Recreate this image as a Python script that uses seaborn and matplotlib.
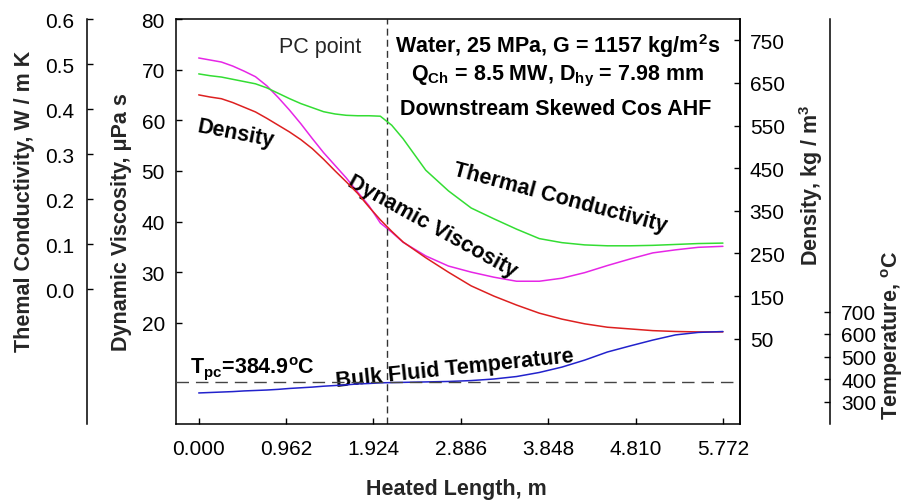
import matplotlib

matplotlib.use("Agg")

import matplotlib.pyplot as plt
import seaborn as sns
from matplotlib.ticker import FormatStrFormatter

# Values
HEATED_LENGTH = [0.0, 0.125, 0.25, 0.375, 0.5, 0.625, 0.75, 0.875, 1.0, 1.125,
                 1.25, 1.375, 1.5, 1.625, 1.75, 1.875, 2.0, 2.125, 2.25, 2.5,
                 2.75, 3.0, 3.25, 3.5, 3.75, 4.0, 4.25, 4.5, 4.75, 5.0,
                 5.25, 5.5, 5.772]
VISCOSITY = [72.3, 71.9, 71.5, 70.7, 69.7, 68.6, 66.8, 64.5, 62.0, 59.3,
             56.4, 53.6, 51.1, 48.6, 45.8, 43.1, 39.7, 37.9, 35.9, 33.2,
             31.2, 30.0, 29.0, 28.2, 28.2, 28.8, 29.9, 31.3, 32.6, 33.8,
             34.4, 34.9, 35.1]
CONDUCTIVITY = [0.478, 0.474, 0.471, 0.466, 0.461, 0.456, 0.447, 0.435, 0.423, 0.412,
                0.403, 0.394, 0.389, 0.386, 0.385, 0.385, 0.384, 0.364, 0.334, 0.264,
                0.218, 0.180, 0.156, 0.133, 0.112, 0.103, 0.098, 0.096, 0.096, 0.097,
                0.099, 0.101, 0.102]
DENSITY = [622, 617, 613, 604, 593, 582, 567, 551, 535, 517,
           496, 471, 444, 418, 391, 359, 329, 302, 277, 240,
           206, 174, 150, 129, 110, 96, 85, 77, 73, 69,
           67, 66, 66]
TEMPERATURE = [338, 340, 342, 344, 347, 349, 351, 354, 358, 361,
               364, 368, 371, 374, 378, 380, 383, 384, 385, 387,
               389, 393, 400, 411, 429, 453, 484, 520, 547, 573,
               596, 607, 611]

X_TICKS = [0.000, 0.962, 1.924, 2.886, 3.848, 4.810, 5.772]
VISC_TICKS = [20, 30, 40, 50, 60, 70, 80]
COND_TICKS = [0.0, 0.1, 0.2, 0.3, 0.4, 0.5, 0.6]
DENS_TICKS = [50, 150, 250, 350, 450, 550, 650, 750]
TEMP_TICKS = [300, 400, 500, 600, 700]
PC_POINT = 2.07
T_PC = 384.9

sns.set_theme(style="ticks")
plt.rcParams["font.family"] = ["Liberation Sans", "DejaVu Sans"]
plt.rcParams.update({
    "mathtext.fontset": "custom",
    "mathtext.rm": "Liberation Sans",
    "mathtext.it": "Liberation Sans:italic",
    "mathtext.bf": "Liberation Sans:bold",
    "axes.linewidth": 1.1,
    "xtick.direction": "in",
    "ytick.direction": "in",
    "xtick.major.size": 4,
    "ytick.major.size": 4,
    "xtick.major.width": 1.0,
    "ytick.major.width": 1.0,
    "xtick.color": "black",
    "ytick.color": "black",
    "axes.edgecolor": "black",
})

TICK_FS = 15
LABEL_FS = 15.5
LW = 1.1

fig = plt.figure(figsize=(9.14, 5.02), dpi=100)
ax = fig.add_axes([176 / 914, 1 - 425 / 502, 564 / 914, 405 / 502])

# viscosity on the main axes
sns.lineplot(x=HEATED_LENGTH, y=VISCOSITY, ax=ax, color="#e626e6", lw=LW)
ax.set_xlim(-0.25, 5.96)
ax.set_ylim(0, 80)
ax.set_xticks(X_TICKS)
ax.xaxis.set_major_formatter(FormatStrFormatter("%.3f"))
ax.set_yticks(VISC_TICKS)
ax.tick_params(axis="x", labelsize=TICK_FS, pad=11)
ax.tick_params(axis="y", labelsize=TICK_FS, pad=8)
ax.set_xlabel("Heated Length, m", fontsize=LABEL_FS, fontweight="bold")
ax.xaxis.set_label_coords(0.498, -0.16)
ax.xaxis.label.set_va("center")
ax.set_ylabel("Dynamic Viscosity, μPa s", fontsize=LABEL_FS, fontweight="bold")
ax.yaxis.set_label_coords(-0.097, 0.5)
ax.yaxis.label.set_va("center")
ax.axvline(PC_POINT, color="#333333", lw=1.0, ls=(0, (5, 3)))


def only_spine(axis, side, position):
    for name, spine in axis.spines.items():
        spine.set_visible(name == side)
    axis.spines[side].set_position(("axes", position))
    axis.spines[side].set_linewidth(1.1)


# thermal conductivity, outer left axis
ax_k = ax.twinx()
sns.lineplot(x=HEATED_LENGTH, y=CONDUCTIVITY, ax=ax_k, color="#33dd33", lw=LW)
only_spine(ax_k, "left", -0.158)
ax_k.yaxis.tick_left()
ax_k.yaxis.set_label_position("left")
ax_k.set_ylim(-0.3, 0.6)
ax_k.set_yticks(COND_TICKS)
ax_k.yaxis.set_major_formatter(FormatStrFormatter("%.1f"))
ax_k.tick_params(axis="y", labelsize=TICK_FS, pad=9)
ax_k.set_ylabel("Themal Conductivity, W / m K", fontsize=LABEL_FS, fontweight="bold")
ax_k.yaxis.set_label_coords(-0.268, 0.553)
ax_k.yaxis.label.set_va("center")

# density, right axis of the box
ax_d = ax.twinx()
sns.lineplot(x=HEATED_LENGTH, y=DENSITY, ax=ax_d, color="#dd2020", lw=LW)
only_spine(ax_d, "right", 1.0)
ax_d.set_ylim(-150, 800)
ax_d.set_yticks(DENS_TICKS)
ax_d.tick_params(axis="y", labelsize=TICK_FS, pad=7)
ax_d.set_ylabel("Density, kg / m$^\\mathbf{3}$", fontsize=LABEL_FS, fontweight="bold")
ax_d.yaxis.set_label_coords(1.126, 0.593)
ax_d.yaxis.label.set_va("center")

# bulk fluid temperature, outer right axis
ax_t = ax.twinx()
sns.lineplot(x=HEATED_LENGTH, y=TEMPERATURE, ax=ax_t, color="#2222cc", lw=LW)
only_spine(ax_t, "right", 1.160)
ax_t.set_ylim(200, 2000)
ax_t.set_yticks(TEMP_TICKS)
ax_t.tick_params(axis="y", labelsize=TICK_FS, pad=8)
ax_t.set_ylabel("Temperature, $^\\mathbf{o}$C", fontsize=LABEL_FS, fontweight="bold")
ax_t.yaxis.set_label_coords(1.270, 0.222)
ax_t.yaxis.label.set_va("center")
ax_t.axhline(T_PC, color="#444444", lw=1.0, ls=(0, (9, 5)))

# annotations
bold = dict(fontsize=LABEL_FS, fontweight="bold", color="black")
ax.text(1.34, 74.5, "PC point", fontsize=LABEL_FS, ha="center", va="center")
ax.text(3.95, 73.5, "Water, 25 MPa, G = 1157 kg/m$^\\mathbf{2}$s", ha="center", va="baseline", **bold)
ax.text(3.95, 68.1, "Q$_\\mathbf{Ch}$ = 8.5 MW, D$_\\mathbf{hy}$ = 7.98 mm", ha="center", va="baseline", **bold)
ax.text(3.93, 61.2, "Downstream Skewed Cos AHF", ha="center", va="baseline", **bold)
ax.text(0.41, 57.5, "Density", rotation=-11, ha="center", va="center", rotation_mode="anchor", **bold)
ax.text(2.57, 39.1, "Dynamic Viscosity", rotation=-29, ha="center", va="center", rotation_mode="anchor", **bold)
ax.text(3.98, 44.8, "Thermal Conductivity", rotation=-15, ha="center", va="center", rotation_mode="anchor", **bold)
ax.text(-0.096, 10.2, "T$_\\mathbf{pc}$=384.9$^\\mathbf{o}$C", ha="left", va="baseline", **bold)
ax.text(2.82, 11.0, "Bulk Fluid Temperature", rotation=6, ha="center", va="center", rotation_mode="anchor", **bold)

fig.savefig("out.png", dpi=100)
